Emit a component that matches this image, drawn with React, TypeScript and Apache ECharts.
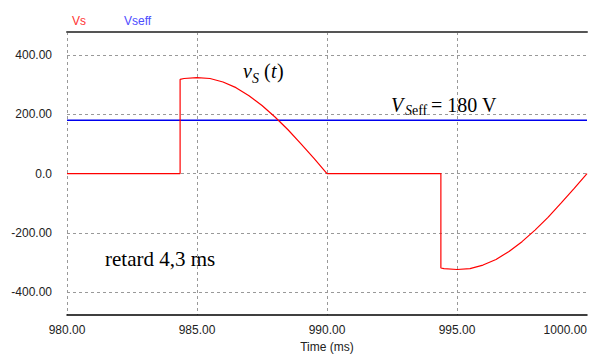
import React, { useEffect, useRef } from 'react';
import * as echarts from 'echarts';

// Time (ms) and source voltage Vs (V)
const timeMs = [
  980, 984.35, 984.35, 984.5, 985, 985.5, 986, 986.5, 987, 987.5, 988, 988.5, 989, 989.5, 990,
  994.38, 994.38, 994.5, 995, 995.5, 996, 996.5, 997, 997.5, 998, 998.5, 999, 999.5, 1000,
];
const vs = [
  0, 0, 318, 321, 324, 321, 309, 290, 263, 230, 191, 148, 100, 51, 0,
  0, -319, -321, -324, -321, -309, -290, -263, -230, -191, -148, -100, -51, 0,
];
const vsEffTime = [980, 1000];
const vsEff = [180, 180];
const yTicks = [-400, -200, 0, 200, 400];
const seriesNames = ['Vs', 'Vseff'];

const serif = '"Liberation Serif", "Times New Roman", serif';
const sans = '"Liberation Sans", Arial, sans-serif';

export default function App() {
  const ref = useRef<HTMLDivElement>(null);
  useEffect(() => {
    const chart = echarts.init(ref.current!, undefined, { renderer: 'svg' });
    const txt = (text: string, x: number, y: number, size: number, italic = false) => ({
      type: 'text',
      x,
      y,
      style: {
        text,
        font: `${italic ? 'italic ' : ''}${size}px ${serif}`,
        fill: '#000',
        verticalAlign: 'middle',
        align: 'left',
      },
    });
    chart.setOption({
      animation: false,
      backgroundColor: '#fff',
      grid: { left: 67, right: 0, top: 32, bottom: 40 },
      legend: {
        left: 61,
        top: 10,
        itemWidth: 0,
        itemHeight: 0,
        itemGap: 32,
        textStyle: { fontSize: 12, fontFamily: sans },
        data: [
          { name: seriesNames[0], textStyle: { color: '#ff3333' } },
          { name: seriesNames[1], textStyle: { color: '#4d4dff' } },
        ],
      },
      xAxis: [
        {
          type: 'value',
          min: 980,
          max: 1000,
          interval: 5,
          name: 'Time (ms)',
          nameLocation: 'middle',
          nameGap: 25,
          nameTextStyle: { fontSize: 12, fontFamily: sans, color: '#222' },
          axisLine: { show: true, onZero: false, lineStyle: { color: '#000', width: 1.5 } },
          axisTick: { show: false },
          axisLabel: {
            formatter: (v: number) => v.toFixed(2),
            color: '#222',
            fontSize: 12,
            fontFamily: sans,
            margin: 9,
            alignMaxLabel: 'right',
          },
          splitLine: {
            show: true,
            showMaxLine: false,
            lineStyle: { type: [3, 3], color: '#999', width: 1 },
          },
        },
        {
          type: 'value',
          position: 'top',
          min: 980,
          max: 1000,
          axisLine: { show: true, onZero: false, lineStyle: { color: '#555', width: 2 } },
          axisTick: { show: false },
          axisLabel: { show: false },
          splitLine: { show: false },
        },
      ],
      yAxis: {
        type: 'value',
        min: -478,
        max: 478,
        axisLine: { show: false },
        axisTick: { show: false, customValues: yTicks },
        axisLabel: {
          customValues: yTicks,
          formatter: (v: number) => (v === 0 ? '0.0' : v.toFixed(2)),
          color: '#222',
          fontSize: 12,
          fontFamily: sans,
          margin: 15,
        },
        splitLine: { show: true, lineStyle: { type: [3, 3], color: '#999', width: 1 } },
      },
      series: [
        {
          name: seriesNames[0],
          type: 'line',
          showSymbol: false,
          symbol: 'none',
          color: '#ff0000',
          lineStyle: { color: '#ff0000', width: 1.2 },
          data: timeMs.map((t, i) => [t, vs[i]]),
          z: 3,
        },
        {
          name: seriesNames[1],
          type: 'line',
          showSymbol: false,
          symbol: 'none',
          color: '#0000ee',
          lineStyle: { color: '#0000ee', width: 1.4 },
          data: vsEffTime.map((t, i) => [t, vsEff[i]]),
          z: 2,
        },
      ],
      graphic: [
        txt('v', 243, 70.8, 20, true),
        txt('S', 252, 78.3, 14, true),
        txt('(', 264, 70.8, 20),
        txt('t', 271, 70.8, 20, true),
        txt(')', 277, 70.8, 20),
        txt('V', 391, 105, 20, true),
        txt('S', 405, 110.8, 14, true),
        txt('eff', 412, 110.8, 14),
        txt('= 180 V', 431, 105, 20),
        txt('retard 4,3 ms', 105, 259, 21),
      ],
    });
    return () => chart.dispose();
  }, []);
  return (
    <div
      ref={ref}
      style={{ position: 'absolute', left: 0, top: 0, width: 590, height: 358 }}
    />
  );
}
